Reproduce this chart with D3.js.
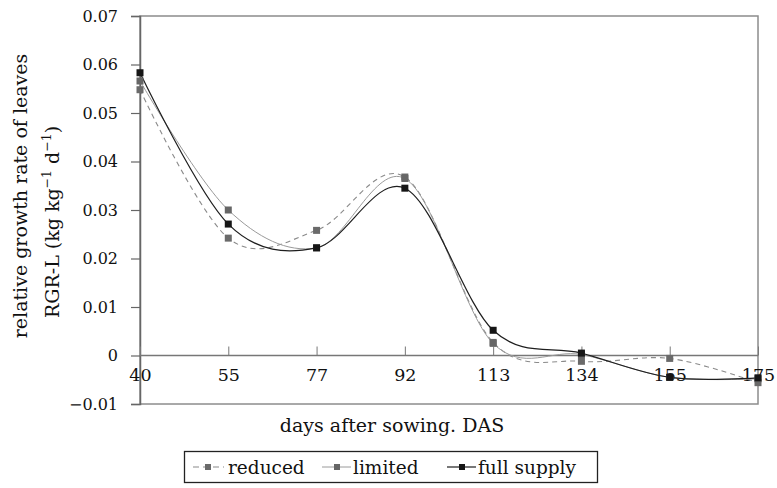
<!DOCTYPE html>
<html>
<head>
<meta charset="utf-8">
<script src="https://cdn.jsdelivr.net/npm/d3@7"></script>
<style>
  html, body { margin: 0; padding: 0; background: #fff; }
  svg { display: block; }
  text { font-family: "DejaVu Serif", serif; fill: #111; }
</style>
</head>
<body>
<svg id="chart" width="777" height="488"></svg>
<script>
// Sampling dates (days after sowing)
const days = ["40", "55", "77", "92", "113", "134", "155", "175"];

// Relative growth rate of leaves per water treatment
const reduced     = [0.0548, 0.0242, 0.0258, 0.0368, 0.0027, -0.0012, -0.0006, -0.0056];
const limited     = [0.0566, 0.0300, 0.0222, 0.0365, 0.0025,  0.0002, -0.0045, -0.0048];
const fullSupply  = [0.0583, 0.0271, 0.0222, 0.0345, 0.0052,  0.0005, -0.0045, -0.0046];

const yTicks = [-0.01, 0, 0.01, 0.02, 0.03, 0.04, 0.05, 0.06, 0.07];

const seriesNames = ["reduced", "limited", "full supply"];
const seriesValues = [reduced, limited, fullSupply];

const styles = {
  "reduced":     { stroke: "#8a8a8a", width: 1.1, dash: "5,4", marker: "#6a6a6a" },
  "limited":     { stroke: "#9a9a9a", width: 1.0, dash: null,  marker: "#666" },
  "full supply": { stroke: "#1e1e1e", width: 1.2, dash: null,  marker: "#161616" }
};

const svg = d3.select("#chart");
const plot = { left: 140, right: 758, top: 16, bottom: 404 };

const x = d3.scalePoint().domain(days).range([plot.left, plot.right]);
const y = d3.scaleLinear().domain([-0.01, 0.07]).range([plot.bottom, plot.top]);

// Frame around the plotting area
svg.append("rect")
  .attr("x", plot.left).attr("y", plot.top)
  .attr("width", plot.right - plot.left).attr("height", plot.bottom - plot.top)
  .attr("fill", "none").attr("stroke", "#8c8c8c").attr("stroke-width", 1.5);

// Left value axis
const yAxis = d3.axisLeft(y).tickValues(yTicks).tickSize(9).tickPadding(13)
  .tickFormat(d => d === 0 ? "0" : (d < 0 ? "\u2212" : "") + Math.abs(d).toFixed(2));
const gy = svg.append("g").attr("transform", `translate(${plot.left},0)`).call(yAxis);
gy.select(".domain").attr("stroke", "#666").attr("stroke-width", 1.5);
gy.selectAll(".tick line").attr("stroke", "#666").attr("stroke-width", 1.2);
gy.selectAll(".tick text").attr("font-size", 16).attr("font-family", "DejaVu Serif, serif").attr("fill", "#111");

// Category axis sitting on the zero line, ticks pointing up
const xAxis = d3.axisBottom(x).tickSize(0).tickPadding(0);
const gx = svg.append("g").attr("transform", `translate(0,${y(0)})`).call(xAxis);
gx.select(".domain").remove();
gx.selectAll(".tick text").attr("font-size", 17.5).attr("font-family", "DejaVu Serif, serif")
  .attr("fill", "#111").attr("dy", "1.45em");
gx.selectAll(".tick").append("line")
  .attr("y1", -9).attr("y2", 0).attr("stroke", "#777").attr("stroke-width", 1);
svg.append("line")
  .attr("x1", plot.left).attr("x2", plot.right)
  .attr("y1", y(0)).attr("y2", y(0))
  .attr("stroke", "#777").attr("stroke-width", 1.5);

// Smoothed series lines
const line = d3.line()
  .x((d, i) => x(days[i]))
  .y(d => y(d))
  .curve(d3.curveCardinal.tension(0));

seriesNames.forEach((name, k) => {
  const st = styles[name];
  svg.append("path")
    .datum(seriesValues[k])
    .attr("d", line)
    .attr("fill", "none")
    .attr("stroke", st.stroke)
    .attr("stroke-width", st.width)
    .attr("stroke-dasharray", st.dash);
});
seriesNames.forEach((name, k) => {
  const st = styles[name];
  svg.append("g").selectAll("rect")
    .data(seriesValues[k])
    .join("rect")
    .attr("x", (d, i) => x(days[i]) - 3.5)
    .attr("y", d => y(d) - 3.5)
    .attr("width", 7).attr("height", 7)
    .attr("fill", st.marker);
});

// Axis titles
const yt = svg.append("g");
yt.append("text")
  .attr("transform", "translate(27,196) rotate(-90)")
  .attr("text-anchor", "middle").attr("font-size", 19)
  .text("relative growth rate of leaves");
const t2 = yt.append("text")
  .attr("transform", "translate(59,222) rotate(-90)")
  .attr("text-anchor", "middle").attr("font-size", 19);
t2.append("tspan").text("RGR-L (kg kg");
t2.append("tspan").attr("font-size", 12.5).attr("dy", -8).text("\u22121");
t2.append("tspan").attr("dy", 8).text(" d");
t2.append("tspan").attr("font-size", 12.5).attr("dy", -8).text("\u22121");
t2.append("tspan").attr("dy", 8).text(")");

svg.append("text")
  .attr("x", 392).attr("y", 432)
  .attr("text-anchor", "middle").attr("font-size", 19)
  .text("days after sowing. DAS");

// Legend
const legend = svg.append("g");
legend.append("rect")
  .attr("x", 184.5).attr("y", 451.5).attr("width", 413).attr("height", 31)
  .attr("fill", "#fff").attr("stroke", "#222").attr("stroke-width", 1.3);
const legendX = [193, 322, 447];
seriesNames.forEach((name, k) => {
  const st = styles[name];
  const g = legend.append("g").attr("transform", `translate(${legendX[k]},467)`);
  g.append("line").attr("x1", 0).attr("x2", name === "reduced" ? 31 : 29).attr("y1", 0).attr("y2", 0)
    .attr("stroke", st.stroke).attr("stroke-width", st.width)
    .attr("stroke-dasharray", st.dash ? "6,4" : null);
  g.append("rect").attr("x", 12).attr("y", -3).attr("width", 6).attr("height", 6).attr("fill", st.marker);
  g.append("text").attr("x", name === "reduced" ? 35 : 31).attr("y", 6.5).attr("font-size", 18.5).text(name);
});
</script>
</body>
</html>
